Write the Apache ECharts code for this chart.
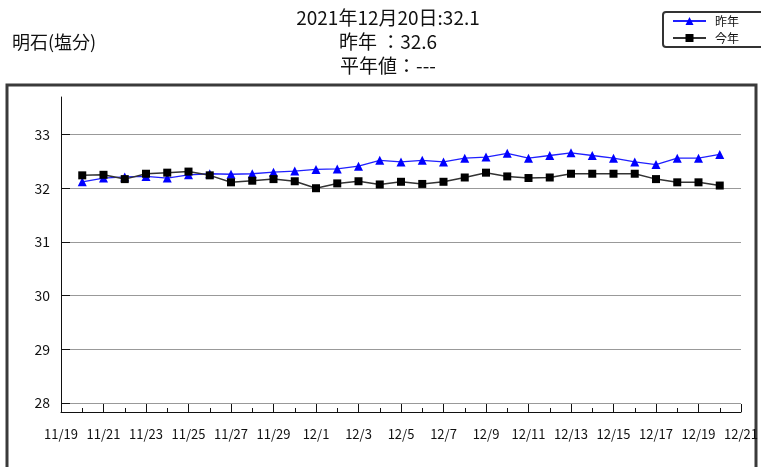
<!DOCTYPE html>
<html>
<head>
<meta charset="utf-8">
<script src="https://cdn.jsdelivr.net/npm/echarts@6/dist/echarts.min.js"></script>
<style>
  html, body { margin: 0; padding: 0; background: #fff; }
  #chart { width: 761px; height: 467px; }
</style>
</head>
<body>
<div id="chart"></div>
<script>
// x軸の日付 (11/19 - 12/21)
var days = ['11/19', '11/20', '11/21', '11/22', '11/23', '11/24', '11/25', '11/26', '11/27', '11/28', '11/29', '11/30',
  '12/1', '12/2', '12/3', '12/4', '12/5', '12/6', '12/7', '12/8', '12/9', '12/10', '12/11', '12/12', '12/13',
  '12/14', '12/15', '12/16', '12/17', '12/18', '12/19', '12/20', '12/21']
// 昨年 (11/20 - 12/20)
var lastYear = [32.12, 32.19, 32.21, 32.22, 32.19, 32.25, 32.27, 32.26, 32.27, 32.30, 32.32, 32.35, 32.36, 32.41, 32.52,
  32.49, 32.52, 32.49, 32.56, 32.58, 32.65, 32.56, 32.61, 32.66, 32.61, 32.56, 32.49, 32.44, 32.56, 32.56, 32.63]
// 今年 (11/20 - 12/20)
var thisYear = [32.24, 32.25, 32.17, 32.27, 32.29, 32.31, 32.24, 32.11, 32.14, 32.17, 32.13, 32.00, 32.09, 32.13, 32.07,
  32.12, 32.08, 32.12, 32.20, 32.29, 32.22, 32.19, 32.20, 32.27, 32.27, 32.27, 32.27, 32.17, 32.11, 32.11, 32.05]
// y軸の目盛
var yTicks = [28, 29, 30, 31, 32, 33]

var font = '"Noto Sans CJK JP", "Noto Sans", sans-serif'

// 前後の日付は空にする
function pad(arr) {
  return [null].concat(arr).concat([null])
}

var option = {
  animation: false,
  textStyle: { fontFamily: font },
  graphic: [
    {
      type: 'rect',
      shape: { x: 7, y: 85, width: 749, height: 420 },
      style: { fill: 'none', stroke: '#3a3a3a', lineWidth: 3 },
      silent: true
    }
  ],
  title: [
    {
      text: '2021年12月20日:32.1\n昨年 ：32.6\n平年値：---',
      left: 388,
      top: 6,
      textAlign: 'center',
      padding: 0,
      textStyle: { fontSize: 19, lineHeight: 24, fontWeight: 'normal', color: '#111', fontFamily: font, align: 'center' }
    },
    {
      text: '明石(塩分)',
      left: 12,
      top: 30,
      padding: 0,
      textStyle: { fontSize: 18, lineHeight: 24, fontWeight: 'normal', color: '#111', fontFamily: font }
    }
  ],
  legend: {
    orient: 'vertical',
    left: 663,
    top: 12,
    padding: [2, 28, 2, 9],
    itemGap: 3,
    itemWidth: 33,
    itemHeight: 10,
    borderColor: '#333',
    borderWidth: 2,
    borderRadius: 3,
    textStyle: { fontSize: 12, lineHeight: 14, color: '#111', fontFamily: font, padding: [0, 0, 0, 4] },
    data: ['昨年', '今年']
  },
  grid: { left: 61, right: 20, top: 97, bottom: 55 },
  xAxis: [
    {
      type: 'category',
      data: days,
      boundaryGap: false,
      axisLine: { lineStyle: { color: '#111', width: 1 } },
      axisTick: { inside: true, length: 8, interval: 1, lineStyle: { color: '#111' } },
      axisLabel: { interval: 1, margin: 16, fontSize: 13, color: '#111', fontFamily: font },
      splitLine: { show: false }
    },
    {
      type: 'category',
      data: days,
      boundaryGap: false,
      position: 'bottom',
      axisLine: { show: false },
      axisTick: { inside: true, length: 4, interval: 0, lineStyle: { color: '#111' } },
      axisLabel: { show: false },
      splitLine: { show: false }
    }
  ],
  yAxis: {
    type: 'value',
    min: 27.83,
    max: 33.7,
    axisLine: { show: true, lineStyle: { color: '#111', width: 1 } },
    axisTick: { show: true, inside: true, length: 9, customValues: yTicks, lineStyle: { color: '#111' } },
    axisLabel: { customValues: yTicks, margin: 11, fontSize: 14, color: '#111', fontFamily: font },
    splitLine: { show: true, lineStyle: { color: '#999', width: 1 } }
  },
  series: [
    {
      name: '昨年',
      type: 'line',
      data: pad(lastYear),
      symbol: 'triangle',
      symbolSize: 9,
      itemStyle: { color: '#0000ff' },
      lineStyle: { color: '#2020ff', width: 1.3 }
    },
    {
      name: '今年',
      type: 'line',
      data: pad(thisYear),
      symbol: 'rect',
      symbolSize: 8,
      itemStyle: { color: '#000' },
      lineStyle: { color: '#333', width: 1.5 }
    }
  ]
}

var chart = echarts.init(document.getElementById('chart'))
chart.setOption(option)
</script>
</body>
</html>
